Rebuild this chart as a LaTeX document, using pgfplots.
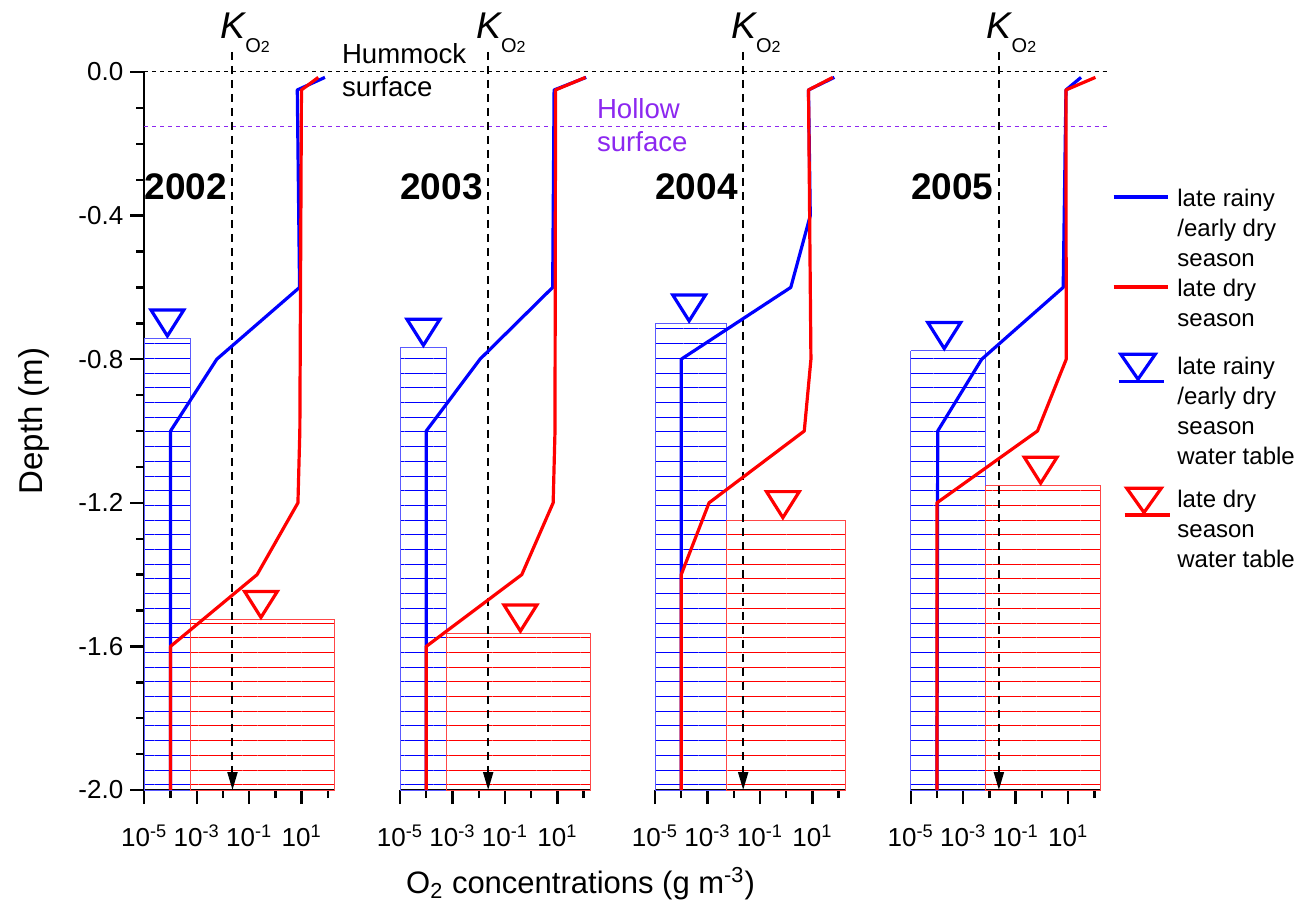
\documentclass[border=0pt]{standalone}
\usepackage{fontspec}
\setmainfont{Liberation Sans}
\usepackage{pgfplots}
\pgfplotsset{compat=1.18}
\usetikzlibrary{patterns.meta,arrows.meta}
\definecolor{hol}{RGB}{140,40,240}
\definecolor{rb}{RGB}{90,90,255}
\definecolor{rr}{RGB}{255,70,70}
\pgfdeclareplotmark{wtri}{%
  \pgfpathmoveto{\pgfqpoint{0pt}{1.2pt}}%
  \pgfpathlineto{\pgfqpoint{-8.2pt}{14.2pt}}%
  \pgfpathlineto{\pgfqpoint{8.2pt}{14.2pt}}%
  \pgfpathclose
  \pgfusepathqstroke}
\pgfplotsset{
  every axis/.append style={
    scale only axis, width=95pt, height=359pt,
    clip=false, anchor=south west,
    tick align=outside,
    major tick length=7pt, minor tick length=4pt,
    tick style={black, line width=1.2pt},
    axis line style={line width=1.2pt},
    ticklabel style={font=\fontsize{13}{15}\selectfont},
    xticklabel style={yshift=-7pt},
  },
}
\tikzset{
  kline/.style={black, line width=1pt, dash pattern=on 4pt off 3pt, -{Triangle[length=9pt,width=5pt]}},
  brect/.style={draw=rb, line width=0.5pt, pattern={Lines[angle=0,distance=7.35pt,line width=0.5pt]}, pattern color=blue},
  rrect/.style={draw=rr, line width=0.5pt, pattern={Lines[angle=0,distance=7.35pt,line width=0.5pt]}, pattern color=red},
  bline/.style={blue, line width=1.6pt, line join=round},
  rline/.style={red, line width=1.6pt, line join=round},
  hum/.style={black, dash pattern=on 2pt off 2pt, line width=0.5pt},
  hols/.style={hol, dash pattern=on 2pt off 2pt, line width=0.5pt},
}
\newcommand{\Klabel}{{\fontsize{18.6}{20}\selectfont\itshape K}\raisebox{-7pt}{\fontsize{10}{11}\selectfont O\fontsize{8}{9}\selectfont 2}}
\newcommand{\yearfont}{\fontsize{18.5}{20}\selectfont\bfseries}
\newcommand{\annfont}{\fontsize{13.8}{16}\selectfont}
\begin{document}
\begin{tikzpicture}
\useasboundingbox (-72.15pt,-63.5pt) rectangle (575.35pt,395pt);
% ---------------- 2002 ----------------
\begin{axis}[at={(0pt,0pt)},
  xmode=log, xmin=1e-5, xmax=175, ymin=-2, ymax=0,
  axis x line*=bottom, axis y line*=left,
  xtick={1e-5,1e-3,1e-1,10},
  xticklabels={10\textsuperscript{-5},10\textsuperscript{-3},10\textsuperscript{-1},10\textsuperscript{1}},
  minor xtick={1e-4,1e-2,1,100},
  ytick={-2,-1.6,-1.2,-0.8,-0.4,0},
  yticklabels={-2.0,-1.6,-1.2,-0.8,-0.4,0.0},
  minor y tick num=3]
\addplot[hum, forget plot] coordinates {(1e-5,0) (5.6e4,0)};
\addplot[hols, forget plot] coordinates {(1e-5,-0.153) (5.6e4,-0.153)};
\addplot[brect, forget plot] coordinates {(1e-5,-0.742) (5.8e-4,-0.742) (5.8e-4,-2) (1e-5,-2) (1e-5,-0.742)};
\addplot[rrect, forget plot] coordinates {(5.8e-4,-1.526) (175,-1.526) (175,-2) (5.8e-4,-2) (5.8e-4,-1.526)};
\addplot[kline, forget plot] coordinates {(0.023,0.056) (0.023,-2)};
\addplot[bline, forget plot] coordinates {(77,-0.015) (6.8,-0.05) (8.3,-0.6) (0.0058,-0.8) (1.0e-4,-1.0) (1.0e-4,-2.0)};
\addplot[rline, forget plot] coordinates {(43,-0.015) (9.8,-0.05) (8.5,-1.0) (7.2,-1.2) (0.2,-1.4) (1.0e-4,-1.6) (1.0e-4,-2.0)};
\addplot[blue, only marks, mark=wtri, mark options={line width=1.6pt, line join=miter, solid}, forget plot] coordinates {(7.6e-5,-0.742)};
\addplot[red, only marks, mark=wtri, mark options={line width=1.6pt, line join=miter, solid}, forget plot] coordinates {(0.28,-1.526)};
\node[anchor=base west, inner sep=0pt, xshift=-6.2pt] at (axis cs:0.023,0.0933) {\Klabel};
\node[anchor=base west, inner sep=0pt, font=\yearfont] at (axis cs:1e-5,-0.354) {2002};
\node[anchor=base west, inner sep=0pt, font=\annfont] at (axis cs:333,0.0223) {Hummock};
\node[anchor=base west, inner sep=0pt, font=\annfont] at (axis cs:333,-0.069) {surface};
\node[anchor=base, inner sep=0pt, font=\fontsize{15.5}{18}\selectfont] at (axis description cs:2.296,-0.1435) {O\textsubscript{2} concentrations (g m\textsuperscript{-3})};
\node[rotate=90, anchor=base, inner sep=0pt, font=\fontsize{16.5}{18}\selectfont] at (axis description cs:-0.538,0.514) {Depth (m)};
\end{axis}
% ---------------- 2003 ----------------
\begin{axis}[at={(127.85pt,0pt)},
  xmode=log, xmin=1e-5, xmax=175, ymin=-2, ymax=0,
  axis x line*=bottom, axis y line=none, ytick=\empty,
  xtick={1e-5,1e-3,1e-1,10},
  xticklabels={10\textsuperscript{-5},10\textsuperscript{-3},10\textsuperscript{-1},10\textsuperscript{1}},
  minor xtick={1e-4,1e-2,1,100}]
\addplot[hum, forget plot] coordinates {(1e-5,0) (5.6e4,0)};
\addplot[hols, forget plot] coordinates {(1e-5,-0.153) (5.6e4,-0.153)};
\addplot[brect, forget plot] coordinates {(1e-5,-0.768) (6e-4,-0.768) (6e-4,-2) (1e-5,-2) (1e-5,-0.768)};
\addplot[rrect, forget plot] coordinates {(6e-4,-1.564) (175,-1.564) (175,-2) (6e-4,-2) (6e-4,-1.564)};
\addplot[kline, forget plot] coordinates {(0.023,0.056) (0.023,-2)};
\addplot[bline, forget plot] coordinates {(125,-0.015) (7.5,-0.05) (6.6,-0.6) (0.0112,-0.8) (1.0e-4,-1.0) (1.0e-4,-2.0)};
\addplot[rline, forget plot] coordinates {(118,-0.015) (8.5,-0.05) (8.1,-1.0) (6.9,-1.2) (0.44,-1.4) (1.0e-4,-1.6) (1.0e-4,-2.0)};
\addplot[blue, only marks, mark=wtri, mark options={line width=1.6pt, line join=miter, solid}, forget plot] coordinates {(7.8e-5,-0.768)};
\addplot[red, only marks, mark=wtri, mark options={line width=1.6pt, line join=miter, solid}, forget plot] coordinates {(0.39,-1.564)};
\node[anchor=base west, inner sep=0pt, xshift=-6.2pt] at (axis cs:0.023,0.0933) {\Klabel};
\node[anchor=base west, inner sep=0pt, font=\yearfont] at (axis cs:1e-5,-0.354) {2003};
\node[anchor=base west, inner sep=0pt, font=\annfont, text=hol] at (axis cs:313,-0.129) {Hollow};
\node[anchor=base west, inner sep=0pt, font=\annfont, text=hol] at (axis cs:313,-0.222) {surface};
\end{axis}
% ---------------- 2004 ----------------
\begin{axis}[at={(255.35pt,0pt)},
  xmode=log, xmin=1e-5, xmax=175, ymin=-2, ymax=0,
  axis x line*=bottom, axis y line=none, ytick=\empty,
  xtick={1e-5,1e-3,1e-1,10},
  xticklabels={10\textsuperscript{-5},10\textsuperscript{-3},10\textsuperscript{-1},10\textsuperscript{1}},
  minor xtick={1e-4,1e-2,1,100}]
\addplot[hum, forget plot] coordinates {(1e-5,0) (5.6e4,0)};
\addplot[hols, forget plot] coordinates {(1e-5,-0.153) (5.6e4,-0.153)};
\addplot[brect, forget plot] coordinates {(1e-5,-0.70) (5.3e-3,-0.70) (5.3e-3,-2) (1e-5,-2) (1e-5,-0.70)};
\addplot[rrect, forget plot] coordinates {(5.3e-3,-1.248) (175,-1.248) (175,-2) (5.3e-3,-2) (5.3e-3,-1.248)};
\addplot[kline, forget plot] coordinates {(0.023,0.056) (0.023,-2)};
\addplot[bline, forget plot] coordinates {(69,-0.015) (7.1,-0.05) (8.3,-0.4) (1.5,-0.6) (1.0e-4,-0.8) (1.0e-4,-2.0)};
\addplot[rline, forget plot] coordinates {(60,-0.015) (7.1,-0.05) (8.8,-0.8) (4.9,-1.0) (1.15e-3,-1.2) (1.0e-4,-1.4) (1.0e-4,-2.0)};
\addplot[blue, only marks, mark=wtri, mark options={line width=1.6pt, line join=miter, solid}, forget plot] coordinates {(2.0e-4,-0.70)};
\addplot[red, only marks, mark=wtri, mark options={line width=1.6pt, line join=miter, solid}, forget plot] coordinates {(0.75,-1.248)};
\node[anchor=base west, inner sep=0pt, xshift=-6.2pt] at (axis cs:0.023,0.0933) {\Klabel};
\node[anchor=base west, inner sep=0pt, font=\yearfont] at (axis cs:1e-5,-0.354) {2004};
\end{axis}
% ---------------- 2005 ----------------
\begin{axis}[at={(383.2pt,0pt)},
  xmode=log, xmin=1e-5, xmax=175, ymin=-2, ymax=0,
  axis x line*=bottom, axis y line=none, ytick=\empty,
  xtick={1e-5,1e-3,1e-1,10},
  xticklabels={10\textsuperscript{-5},10\textsuperscript{-3},10\textsuperscript{-1},10\textsuperscript{1}},
  minor xtick={1e-4,1e-2,1,100},
  legend style={draw=none, fill=none, at={(1.0595,0.8426)}, anchor=north west,
    inner sep=0pt, outer sep=0pt, row sep=0pt, column sep=3.1pt,
    cells={anchor=base west},
    nodes={inner sep=0pt, outer sep=0pt, anchor=base west, text depth={},
      font=\fontsize{12}{15}\selectfont}}]
\addplot[hum, forget plot] coordinates {(1e-5,0) (400,0)};
\addplot[hols, forget plot] coordinates {(1e-5,-0.153) (400,-0.153)};
\addplot[brect, forget plot] coordinates {(1e-5,-0.777) (7.2e-3,-0.777) (7.2e-3,-2) (1e-5,-2) (1e-5,-0.777)};
\addplot[rrect, forget plot] coordinates {(7.2e-3,-1.152) (175,-1.152) (175,-2) (7.2e-3,-2) (7.2e-3,-1.152)};
\addplot[kline, forget plot] coordinates {(0.023,0.056) (0.023,-2)};
\addplot[bline, forget plot] coordinates {(31,-0.015) (8.3,-0.05) (6.5,-0.6) (5.1e-3,-0.8) (1.07e-4,-1.0) (1.0e-4,-2.0)};
\addplot[rline, forget plot] coordinates {(110,-0.015) (8.3,-0.05) (8.5,-0.8) (0.68,-1.0) (1.0e-4,-1.2) (1.0e-4,-2.0)};
\addplot[blue, only marks, mark=wtri, mark options={line width=1.6pt, line join=miter, solid}, forget plot] coordinates {(1.9e-4,-0.777)};
\addplot[red, only marks, mark=wtri, mark options={line width=1.6pt, line join=miter, solid}, forget plot] coordinates {(0.9,-1.152)};
\node[anchor=base west, inner sep=0pt, xshift=-6.2pt] at (axis cs:0.023,0.0933) {\Klabel};
\node[anchor=base west, inner sep=0pt, font=\yearfont] at (axis cs:1e-5,-0.354) {2005};
\addlegendimage{legend image code/.code={\draw[blue, line width=1.6pt] (0pt,4.5pt) -- (27pt,4.5pt);}}
\addlegendentry{\begin{tabular}[t]{@{}l@{}}late rainy\\/early dry\\season\end{tabular}}
\addlegendimage{legend image code/.code={\draw[red, line width=1.6pt] (0pt,4.5pt) -- (27pt,4.5pt);}}
\addlegendentry{\begin{tabular}[t]{@{}l@{}}late dry\\season\rule[-13.35pt]{0pt}{1pt}\end{tabular}}
\addlegendimage{legend image code/.code={\draw[blue, line width=1.6pt, line join=miter] (12.2pt,-2.6pt) -- (3.6pt,9.85pt) -- (20.8pt,9.85pt) -- cycle; \draw[blue, line width=1.6pt] (2.5pt,-3.85pt) -- (25pt,-3.85pt);}}
\addlegendentry{\begin{tabular}[t]{@{}l@{}}late rainy\\/early dry\\season\\water table\rule[-11.15pt]{0pt}{1pt}\end{tabular}}
\addlegendimage{legend image code/.code={\draw[red, line width=1.6pt, line join=miter] (15.2pt,-2.6pt) -- (6.6pt,9.5pt) -- (23.8pt,9.5pt) -- cycle; \draw[red, line width=1.6pt] (5.5pt,-3.85pt) -- (28pt,-3.85pt);}}
\addlegendentry{\begin{tabular}[t]{@{}l@{}}late dry\\season\\water table\end{tabular}}
\end{axis}
\end{tikzpicture}
\end{document}
